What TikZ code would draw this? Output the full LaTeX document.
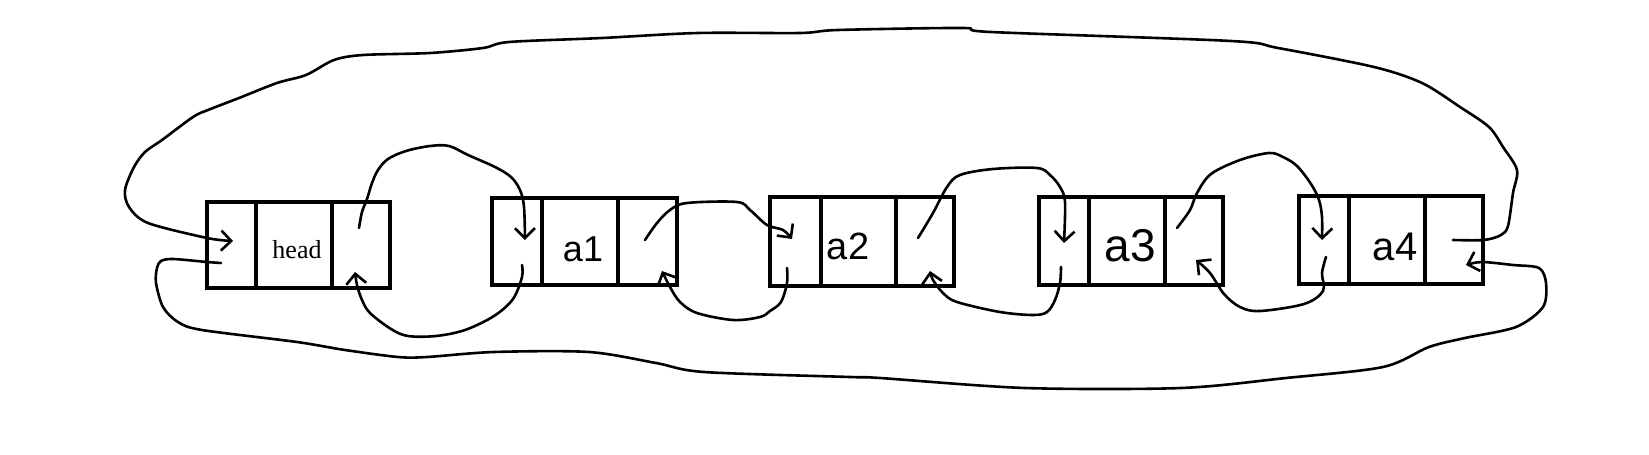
\documentclass[tikz,border=0pt]{standalone}
\usepackage{fontspec}
\setmainfont{Liberation Serif}
\newfontfamily\handfont{Liberation Sans}
\usetikzlibrary{arrows.meta}
\newcommand{\listnode}[7]{% name, x0, x1, x2, x3, y0, y1
  \node[cell, minimum width={#3-#2}, minimum height={#7-#6}] (#1-p) at ({(#2+#3)/2},{(#6+#7)/2}) {};
  \node[cell, minimum width={#4-#3}, minimum height={#7-#6}] (#1-d) at ({(#3+#4)/2},{(#6+#7)/2}) {};
  \node[cell, minimum width={#5-#4}, minimum height={#7-#6}] (#1-n) at ({(#4+#5)/2},{(#6+#7)/2}) {};
}
\begin{document}
\begin{tikzpicture}[x=1pt,y=-1pt,
  cell/.style={draw, line width=4.5pt, rectangle, inner sep=0pt, outer sep=0pt},
  wire/.style={line width=2.6pt, line cap=round, line join=round},
  arr/.style={-{Straight Barb[length=10pt,width=20pt]}},
  lbl/.style={inner sep=0pt, font=\handfont\fontsize{#1}{#1}\selectfont},
]
\fill[white] (0,0) rectangle (1649,455);
\useasboundingbox (0,0) rectangle (1649,455);

% list nodes
\listnode{head}{207}{256}{332}{390}{202}{288}
\listnode{a1}{492}{542}{618}{677}{198}{285}
\listnode{a2}{770}{821}{896}{954}{197}{286}
\listnode{a3}{1039}{1089}{1165}{1223}{197}{285}
\listnode{a4}{1299}{1349}{1425}{1483}{196}{284}

% labels
\node[inner sep=0pt, font=\fontsize{26}{30}\selectfont] (t-head) at (297,250) {head};
\node[lbl=36] (t-a1) at (583,249) {a1};
\node[lbl=38] (t-a2) at (848,246) {a2};
\node[lbl=46] (t-a3) at (1130,246) {a3};
\node[lbl=40] (t-a4) at (1395,247) {a4};

% connector end points
\coordinate (c1s) at (359,228);  \coordinate (c1e) at (525,240);
\coordinate (c2s) at (522,265);  \coordinate (c2e) at (355,272);
\coordinate (c3s) at (645,240);  \coordinate (c3e) at (792,239);
\coordinate (c4s) at (787,268);  \coordinate (c4e) at (662,271);
\coordinate (c5s) at (918,238);  \coordinate (c5e) at (1064,243);
\coordinate (c6s) at (1061,267); \coordinate (c6e) at (930,271);
\coordinate (c7s) at (1177,228); \coordinate (c7e) at (1322,240);
\coordinate (c8s) at (1326,257); \coordinate (c8e) at (1196,260);
\coordinate (c9s) at (1453,240); \coordinate (c9e) at (233,241);
\coordinate (c10s) at (221,263); \coordinate (c10e) at (1466,265);

% head -> a1 (top)
\draw[wire, arr] plot[smooth, tension=0.55] coordinates {(c1s) (362,212) (367,199) (372,183) (378,170) (388,159) (406,151) (430,146) (449,146) (468,155) (495,167) (511,177) (520,190) (524,207) (c1e)};
% a1 -> head (bottom)
\draw[wire, arr] plot[smooth, tension=0.55] coordinates {(c2s) (522,277) (513,299) (494,316) (465,330) (436,336) (408,336) (391,329) (370,313) (362,300) (357,285) (c2e)};
% a1 -> a2 (top)
\draw[wire, arr] plot[smooth, tension=0.55] coordinates {(c3s) (657,223) (670,210) (687,203) (737,202) (750,210) (767,225) (783,230) (c3e)};
% a2 -> a1 (bottom)
\draw[wire, arr] plot[smooth, tension=0.55] coordinates {(c4s) (787,283) (781,302) (770,311) (760,317) (733,320) (697,313) (680,302) (670,287) (c4e)};
% a2 -> a3 (top)
\draw[wire, arr] plot[smooth, tension=0.55] coordinates {(c5s) (933,213) (947,187) (960,175) (993,169) (1037,168) (1050,175) (1060,187) (1065,202) (c5e)};
% a3 -> a2 (bottom)
\draw[wire, arr] plot[smooth, tension=0.55] coordinates {(c6s) (1060,283) (1055,300) (1047,312) (1033,315) (1000,312) (957,302) (943,293) (933,280) (c6e)};
% a3 -> a4 (top)
\draw[wire, arr] plot[smooth, tension=0.55] coordinates {(c7s) (1190,210) (1197,193) (1211,174) (1240,160) (1269,153) (1283,157) (1297,166) (1311,184) (1319,200) (1322,217) (c7e)};
% a4 -> a3 (bottom)
\draw[wire, arr] plot[smooth, tension=0.55] coordinates {(c8s) (1322,273) (1323,291) (1304,304) (1260,311) (1240,307) (1224,294) (1210,273) (c8e)};
% a4 -> head (outer top loop)
\draw[wire, arr] plot[smooth, tension=0.5] coordinates {(c9s) (1484,240) (1501,235) (1508,226) (1513,193) (1517,170) (1503,147) (1489,127) (1460,107) (1422,83) (1374,67) (1278,48) (1231,41) (991,32) (963,28) (838,30) (800,33) (698,33) (602,38) (509,42) (483,48) (430,53) (363,55) (334,60) (306,75) (277,83) (239,98) (208,110) (193,117) (162,140) (145,152) (134,167) (125,190) (129,207) (148,223) (207,238) (c9e)};
% head -> a4 (outer bottom loop)
\draw[wire, arr] plot[smooth, tension=0.5] coordinates {(c10s) (207,262) (173,259) (161,261) (157,268) (156,283) (163,307) (178,322) (202,330) (297,342) (345,350) (398,357) (427,357) (494,352) (589,352) (656,363) (704,372) (850,377) (880,378) (1025,388) (1181,388) (1286,378) (1383,367) (1429,347) (1465,338) (1516,327) (1543,307) (1546,283) (1539,268) (1513,265) (1482,262) (c10e)};
\end{tikzpicture}
\end{document}
